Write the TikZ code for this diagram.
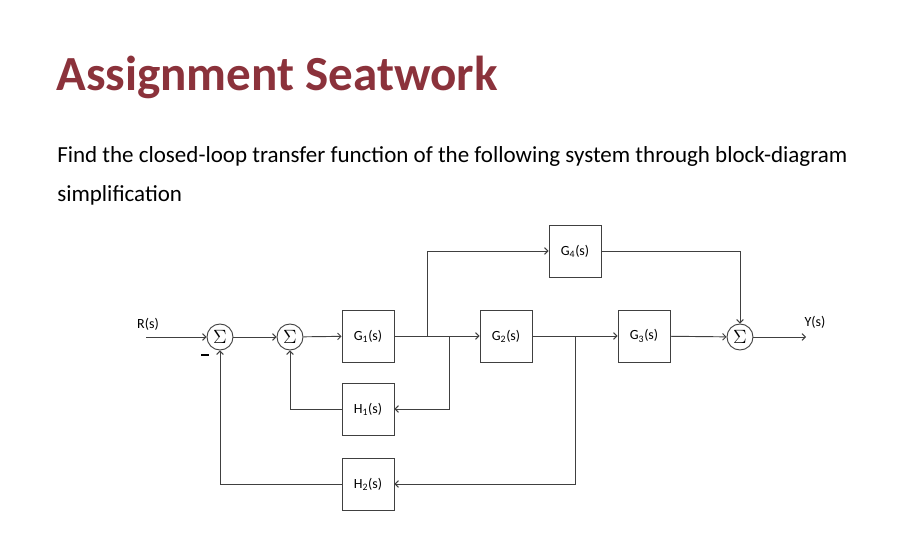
\documentclass[tikz,border=0pt]{standalone}
\usepackage{fontspec}
\setmainfont{Carlito}
\usepackage{xcolor}
\usetikzlibrary{arrows.meta, positioning, calc}
\definecolor{titlered}{HTML}{8B323B}
\definecolor{linegray}{HTML}{404040}

\begin{document}
\begin{tikzpicture}[x=0.75pt, y=-0.75pt,
    block/.style={draw=linegray, line width=0.7pt, minimum width=39pt, minimum height=39pt, inner sep=0pt, font=\fontsize{10.5}{12}\selectfont},
    sumnode/.style={draw=linegray, line width=0.7pt, circle, minimum size=19.5pt, inner sep=0pt, font=\Large},
    wire/.style={draw=linegray, line width=0.7pt},
    >={Straight Barb[length=2.5pt, width=5pt]}]
  \useasboundingbox (0,0) rectangle (915,559);

  % Heading and task
  \node[anchor=base west, inner sep=0pt, text=titlered, font=\fontsize{36.8}{40}\bfseries] (title) at (56,91) {Assignment Seatwork};
  \node[anchor=base west, inner sep=0pt, font=\fontsize{17.25}{20}\selectfont] (task) at (57,163) {Find the closed-loop transfer function of the following system through block-diagram};
  \node[anchor=base west, inner sep=0pt, font=\fontsize{17.25}{20}\selectfont] (task2) at (57,202) {simplification};

  % Summing junctions
  \node[sumnode] (S1) at (220,337) {$\Sigma$};
  \node[sumnode] (S2) at (290,337) {$\Sigma$};
  \node[sumnode] (S3) at (740,337) {$\Sigma$};

  % Blocks
  \node[block] (G1) at (368,336) {G\textsubscript{1}(s)};
  \node[block] (G2) at (506,336) {G\textsubscript{2}(s)};
  \node[block] (G3) at (644,336) {G\textsubscript{3}(s)};
  \node[block] (G4) at (575,251) {G\textsubscript{4}(s)};
  \node[block] (H1) at (368,409) {H\textsubscript{1}(s)};
  \node[block] (H2) at (368,484) {H\textsubscript{2}(s)};

  % Input and output
  \coordinate (in) at (146,337);
  \coordinate (out) at (806,337);
  \node[font=\fontsize{10.5}{12}\selectfont] (R) at (148,324) {R(s)};
  \node[font=\fontsize{10.5}{12}\selectfont] (Y) at (815,322) {Y(s)};
  \node[font=\bfseries] (minus) at (205,355) {\rule{6pt}{1.2pt}};

  % Branch points
  \coordinate (b1) at (427,337);
  \coordinate (b2) at (449,337);
  \coordinate (b3) at (575,337);

  % Forward path
  \draw[wire,->] (in) -- (S1);
  \draw[wire,->] (S1) -- (S2);
  \draw[wire,->] (S2) -- (G1);
  \draw[wire,->] (G1) -- (G2);
  \draw[wire,->] (G2) -- (G3);
  \draw[wire,->] (G3) -- (S3);
  \draw[wire,->] (S3) -- (out);

  % Feed-forward through G4
  \draw[wire,->] (b1) |- (G4);
  \draw[wire,->] (G4) -| (S3);

  % Feedback loops
  \draw[wire,->] (b2) |- (H1);
  \draw[wire,->] (H1) -| (S2);
  \draw[wire,->] (b3) |- (H2);
  \draw[wire,->] (H2) -| (S1);
\end{tikzpicture}
\end{document}
